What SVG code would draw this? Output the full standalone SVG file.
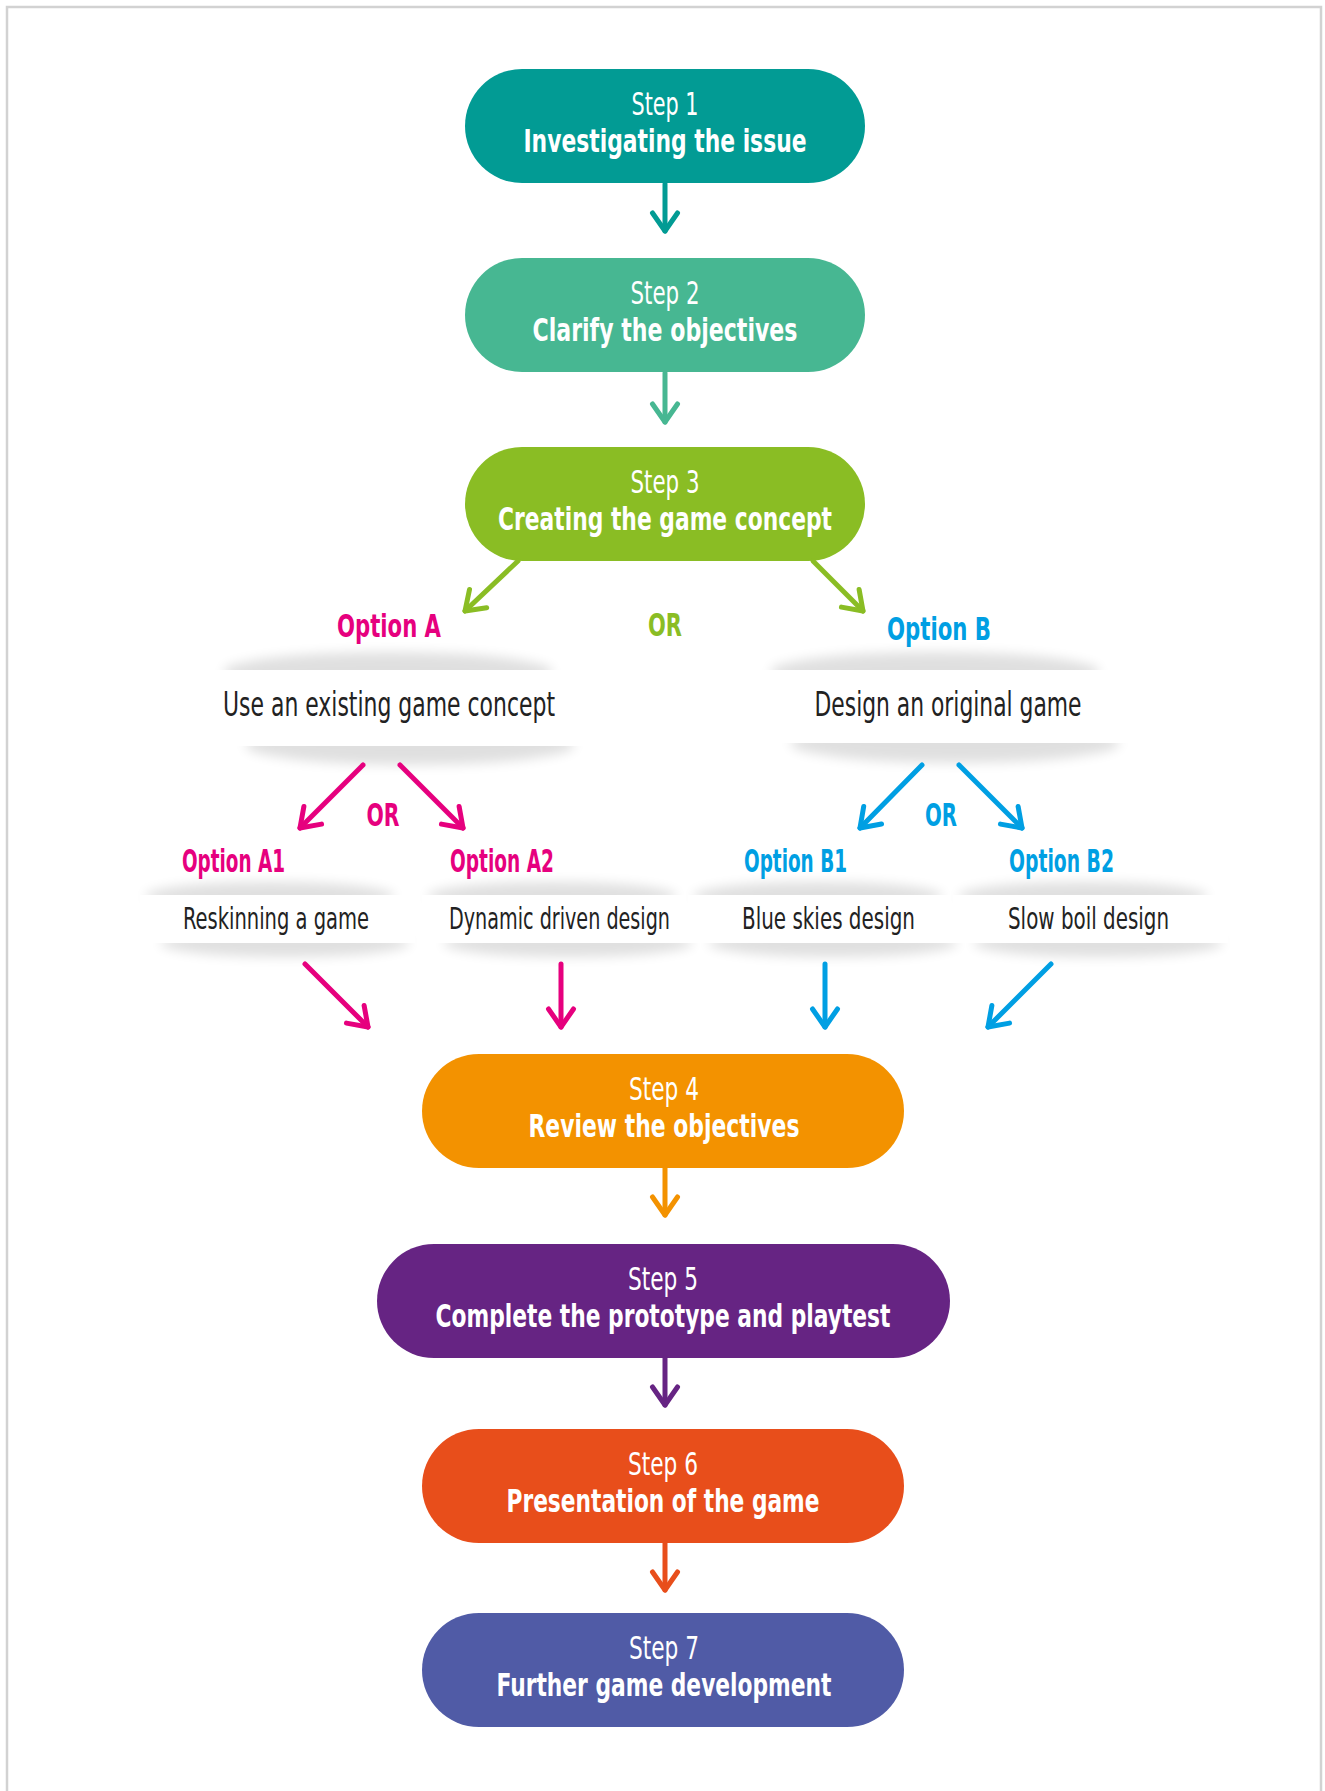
<svg xmlns="http://www.w3.org/2000/svg" width="1325" height="1791" viewBox="0 0 1325 1791">
<style>
.frame{fill:none;stroke:#d2d2d2;stroke-width:2.5}
.st{font-family:"Liberation Sans Narrow","DejaVu Sans Condensed","Liberation Sans",sans-serif;font-size:32px;fill:#fff;text-anchor:middle}
.tt{font-family:"Liberation Sans Narrow","DejaVu Sans Condensed","Liberation Sans",sans-serif;font-size:32px;font-weight:bold;fill:#fff;text-anchor:middle}
.opt{font-family:"Liberation Sans Narrow","DejaVu Sans Condensed","Liberation Sans",sans-serif;font-size:32px;font-weight:bold}
.lbl{font-family:"Liberation Sans Narrow","DejaVu Sans Condensed","Liberation Sans",sans-serif;fill:#222}
.pink{fill:#e6007e}.blue{fill:#009fe3}.lime{fill:#8abd24}
.ln{fill:none;stroke-width:5;stroke-linecap:round;stroke-linejoin:round}
.sh{fill:#000;opacity:0.12;filter:url(#blur)}
.band{fill:#fff}
</style>
<defs>
<filter id="blur" x="-20%" y="-100%" width="140%" height="300%"><feGaussianBlur stdDeviation="6"/></filter>
<marker id="mTeal" markerUnits="userSpaceOnUse" markerWidth="30" markerHeight="34" viewBox="-23 -17 30 34" refX="0" refY="0" orient="auto" overflow="visible"><path d="M-18,-12.5 L0,0 L-18,12.5" fill="none" stroke="#029b94" stroke-width="5" stroke-linecap="round" stroke-linejoin="round"/></marker>
<marker id="mGreen" markerUnits="userSpaceOnUse" markerWidth="30" markerHeight="34" viewBox="-23 -17 30 34" refX="0" refY="0" orient="auto" overflow="visible"><path d="M-18,-12.5 L0,0 L-18,12.5" fill="none" stroke="#47b792" stroke-width="5" stroke-linecap="round" stroke-linejoin="round"/></marker>
<marker id="mLime" markerUnits="userSpaceOnUse" markerWidth="30" markerHeight="34" viewBox="-23 -17 30 34" refX="0" refY="0" orient="auto" overflow="visible"><path d="M-18,-12.5 L0,0 L-18,12.5" fill="none" stroke="#8abd24" stroke-width="5" stroke-linecap="round" stroke-linejoin="round"/></marker>
<marker id="mPink" markerUnits="userSpaceOnUse" markerWidth="30" markerHeight="34" viewBox="-23 -17 30 34" refX="0" refY="0" orient="auto" overflow="visible"><path d="M-18,-12.5 L0,0 L-18,12.5" fill="none" stroke="#e6007e" stroke-width="5" stroke-linecap="round" stroke-linejoin="round"/></marker>
<marker id="mBlue" markerUnits="userSpaceOnUse" markerWidth="30" markerHeight="34" viewBox="-23 -17 30 34" refX="0" refY="0" orient="auto" overflow="visible"><path d="M-18,-12.5 L0,0 L-18,12.5" fill="none" stroke="#009fe3" stroke-width="5" stroke-linecap="round" stroke-linejoin="round"/></marker>
<marker id="mOrange" markerUnits="userSpaceOnUse" markerWidth="30" markerHeight="34" viewBox="-23 -17 30 34" refX="0" refY="0" orient="auto" overflow="visible"><path d="M-18,-12.5 L0,0 L-18,12.5" fill="none" stroke="#f39200" stroke-width="5" stroke-linecap="round" stroke-linejoin="round"/></marker>
<marker id="mPurple" markerUnits="userSpaceOnUse" markerWidth="30" markerHeight="34" viewBox="-23 -17 30 34" refX="0" refY="0" orient="auto" overflow="visible"><path d="M-18,-12.5 L0,0 L-18,12.5" fill="none" stroke="#662483" stroke-width="5" stroke-linecap="round" stroke-linejoin="round"/></marker>
<marker id="mRed" markerUnits="userSpaceOnUse" markerWidth="30" markerHeight="34" viewBox="-23 -17 30 34" refX="0" refY="0" orient="auto" overflow="visible"><path d="M-18,-12.5 L0,0 L-18,12.5" fill="none" stroke="#e84e1b" stroke-width="5" stroke-linecap="round" stroke-linejoin="round"/></marker>
</defs>
<rect width="1325" height="1791" fill="#fff"/>
<path class="frame" d="M7,1795 V7 H1321 V1795"/>

<g id="step1">
<rect x="465" y="69" width="400" height="114" rx="57" fill="#029b94"/>
<text class="st" x="665" y="115" textLength="67" lengthAdjust="spacingAndGlyphs">Step 1</text>
<text class="tt" x="665" y="152" textLength="283" lengthAdjust="spacingAndGlyphs">Investigating the issue</text>
</g>
<g id="step2">
<rect x="465" y="258" width="400" height="114" rx="57" fill="#47b792"/>
<text class="st" x="665" y="304" textLength="69" lengthAdjust="spacingAndGlyphs">Step 2</text>
<text class="tt" x="665" y="341" textLength="265" lengthAdjust="spacingAndGlyphs">Clarify the objectives</text>
</g>
<g id="step3">
<rect x="465" y="447" width="400" height="114" rx="57" fill="#8abd24"/>
<text class="st" x="665" y="493" textLength="69" lengthAdjust="spacingAndGlyphs">Step 3</text>
<text class="tt" x="665" y="530" textLength="334" lengthAdjust="spacingAndGlyphs">Creating the game concept</text>
</g>

<g id="optionA">
<text class="opt pink" x="389" y="637" text-anchor="middle" textLength="104" lengthAdjust="spacingAndGlyphs">Option A</text>
</g>
<g id="orAB">
<text class="opt lime" x="665" y="636" text-anchor="middle" textLength="34" lengthAdjust="spacingAndGlyphs">OR</text>
</g>
<g id="optionB">
<text class="opt blue" x="939" y="640" text-anchor="middle" textLength="104" lengthAdjust="spacingAndGlyphs">Option B</text>
</g>

<g id="bandA">
<ellipse class="sh" cx="388" cy="672" rx="165" ry="20"/>
<ellipse class="sh" cx="410" cy="745" rx="165" ry="20"/>
<rect class="band" x="200" y="670" width="400" height="76"/>
<text class="lbl" x="389" y="716" font-size="34" text-anchor="middle" textLength="332" lengthAdjust="spacingAndGlyphs">Use an existing game concept</text>
</g>
<g id="bandB">
<ellipse class="sh" cx="935" cy="672" rx="165" ry="20"/>
<ellipse class="sh" cx="955" cy="743" rx="165" ry="20"/>
<rect class="band" x="760" y="670" width="380" height="73"/>
<text class="lbl" x="948" y="716" font-size="34" text-anchor="middle" textLength="267" lengthAdjust="spacingAndGlyphs">Design an original game</text>
</g>

<g id="orA"><text class="opt pink" x="383" y="826" text-anchor="middle" textLength="33" lengthAdjust="spacingAndGlyphs">OR</text></g>
<g id="orB"><text class="opt blue" x="941" y="826" text-anchor="middle" textLength="32" lengthAdjust="spacingAndGlyphs">OR</text></g>

<g id="optionA1">
<ellipse class="sh" cx="270" cy="896" rx="125" ry="14"/>
<ellipse class="sh" cx="285" cy="943" rx="125" ry="14"/>
<rect class="band" x="140" y="895" width="275" height="48"/>
<text class="opt pink" x="182" y="872" textLength="103" lengthAdjust="spacingAndGlyphs">Option A1</text>
<text class="lbl" x="183" y="929" font-size="30" textLength="186" lengthAdjust="spacingAndGlyphs">Reskinning a game</text>
</g>
<g id="optionA2">
<ellipse class="sh" cx="552" cy="896" rx="125" ry="14"/>
<ellipse class="sh" cx="568" cy="943" rx="125" ry="14"/>
<rect class="band" x="422" y="895" width="275" height="48"/>
<text class="opt pink" x="450" y="872" textLength="104" lengthAdjust="spacingAndGlyphs">Option A2</text>
<text class="lbl" x="449" y="929" font-size="30" textLength="221" lengthAdjust="spacingAndGlyphs">Dynamic driven design</text>
</g>
<g id="optionB1">
<ellipse class="sh" cx="818" cy="896" rx="125" ry="14"/>
<ellipse class="sh" cx="833" cy="943" rx="125" ry="14"/>
<rect class="band" x="688" y="895" width="275" height="48"/>
<text class="opt blue" x="744" y="872" textLength="103" lengthAdjust="spacingAndGlyphs">Option B1</text>
<text class="lbl" x="742" y="929" font-size="30" textLength="173" lengthAdjust="spacingAndGlyphs">Blue skies design</text>
</g>
<g id="optionB2">
<ellipse class="sh" cx="1083" cy="896" rx="125" ry="14"/>
<ellipse class="sh" cx="1098" cy="943" rx="125" ry="14"/>
<rect class="band" x="953" y="895" width="275" height="48"/>
<text class="opt blue" x="1009" y="872" textLength="105" lengthAdjust="spacingAndGlyphs">Option B2</text>
<text class="lbl" x="1008" y="929" font-size="30" textLength="161" lengthAdjust="spacingAndGlyphs">Slow boil design</text>
</g>

<g id="step4">
<rect x="422" y="1054" width="482" height="114" rx="57" fill="#f39200"/>
<text class="st" x="664" y="1100" textLength="70" lengthAdjust="spacingAndGlyphs">Step 4</text>
<text class="tt" x="664" y="1137" textLength="271" lengthAdjust="spacingAndGlyphs">Review the objectives</text>
</g>
<g id="step5">
<rect x="377" y="1244" width="573" height="114" rx="57" fill="#662483"/>
<text class="st" x="663" y="1290" textLength="70" lengthAdjust="spacingAndGlyphs">Step 5</text>
<text class="tt" x="663" y="1327" textLength="455" lengthAdjust="spacingAndGlyphs">Complete the prototype and playtest</text>
</g>
<g id="step6">
<rect x="422" y="1429" width="482" height="114" rx="57" fill="#e84e1b"/>
<text class="st" x="663" y="1475" textLength="70" lengthAdjust="spacingAndGlyphs">Step 6</text>
<text class="tt" x="663" y="1512" textLength="313" lengthAdjust="spacingAndGlyphs">Presentation of the game</text>
</g>
<g id="step7">
<rect x="422" y="1613" width="482" height="114" rx="57" fill="#505ba6"/>
<text class="st" x="664" y="1659" textLength="70" lengthAdjust="spacingAndGlyphs">Step 7</text>
<text class="tt" x="664" y="1696" textLength="335" lengthAdjust="spacingAndGlyphs">Further game development</text>
</g>

<g id="connectors">
<path class="ln" stroke="#029b94" d="M665,184 V231" marker-end="url(#mTeal)"/>
<path class="ln" stroke="#47b792" d="M665,373 V422" marker-end="url(#mGreen)"/>
<path class="ln" stroke="#8abd24" d="M518,561 L465,611" marker-end="url(#mLime)"/>
<path class="ln" stroke="#8abd24" d="M813,561 L863,611" marker-end="url(#mLime)"/>
<path class="ln" stroke="#e6007e" d="M363,765 L300,828" marker-end="url(#mPink)"/>
<path class="ln" stroke="#e6007e" d="M400,765 L463,828" marker-end="url(#mPink)"/>
<path class="ln" stroke="#009fe3" d="M922,765 L860,828" marker-end="url(#mBlue)"/>
<path class="ln" stroke="#009fe3" d="M959,765 L1022,828" marker-end="url(#mBlue)"/>
<path class="ln" stroke="#e6007e" d="M305,964 L368,1027" marker-end="url(#mPink)"/>
<path class="ln" stroke="#e6007e" d="M561,964 V1027" marker-end="url(#mPink)"/>
<path class="ln" stroke="#009fe3" d="M825,964 V1027" marker-end="url(#mBlue)"/>
<path class="ln" stroke="#009fe3" d="M1051,964 L988,1027" marker-end="url(#mBlue)"/>
<path class="ln" stroke="#f39200" d="M665,1168 V1215" marker-end="url(#mOrange)"/>
<path class="ln" stroke="#662483" d="M665,1358 V1405" marker-end="url(#mPurple)"/>
<path class="ln" stroke="#e84e1b" d="M665,1543 V1590" marker-end="url(#mRed)"/>
</g>
</svg>
